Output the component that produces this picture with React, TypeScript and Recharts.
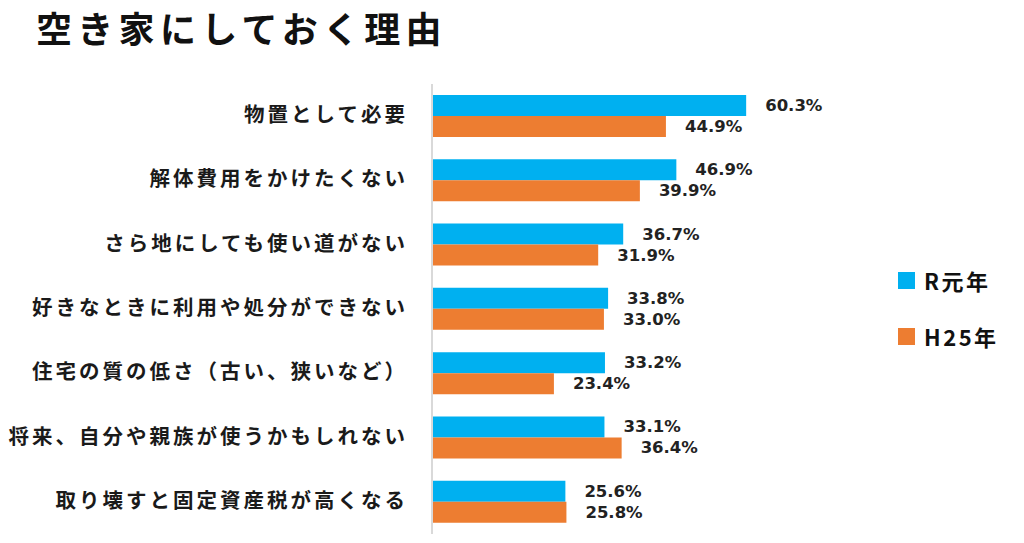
import * as React from 'react'
import { Bar, BarChart, LabelList, XAxis, YAxis } from 'recharts'

const categories = [
  '物置として必要',
  '解体費用をかけたくない',
  'さら地にしても使い道がない',
  '好きなときに利用や処分ができない',
  '住宅の質の低さ（古い、狭いなど）',
  '将来、自分や親族が使うかもしれない',
  '取り壊すと固定資産税が高くなる',
]
const r1Values = [60.3, 46.9, 36.7, 33.8, 33.2, 33.1, 25.6]
const h25Values = [44.9, 39.9, 31.9, 33.0, 23.4, 36.4, 25.8]
const seriesNames = ['R元年', 'H25年']

const BLUE = '#00B0F0'
const ORANGE = '#ED7D31'
const JP = '"Noto Sans CJK JP", "Noto Sans", sans-serif'

const data = categories.map((name, i) => ({ name, r1: r1Values[i], h25: h25Values[i] }))

const CategoryTick = (props: any) => {
  const { x, y, payload } = props
  return (
    <text
      x={x}
      y={y}
      dy={-3}
      textAnchor="end"
      dominantBaseline="central"
      fontFamily={JP}
      fontSize={20.5}
      fontWeight={700}
      letterSpacing={3}
      fill="#1a1a1a"
    >
      {payload.value}
    </text>
  )
}

const ValueLabel = (props: any) => {
  const { x, y, width, height, value } = props
  return (
    <text
      x={x + width + 19}
      y={y + height / 2}
      dominantBaseline="central"
      fontFamily='"DejaVu Sans", Verdana, sans-serif'
      fontSize={16.5}
      fontWeight={700}
      fill="#222"
    >
      {`${value.toFixed(1)}%`}
    </text>
  )
}

const LegendBox = () => (
  <div
    style={{
      position: 'absolute',
      left: 898,
      top: 266,
      fontFamily: JP,
      fontWeight: 700,
      fontSize: 22,
      letterSpacing: 2.5,
      color: '#111',
    }}
  >
    {[
      { label: seriesNames[0], color: BLUE },
      { label: seriesNames[1], color: ORANGE },
    ].map((it) => (
      <div key={it.label} style={{ display: 'flex', alignItems: 'center', height: 28, marginBottom: 28, lineHeight: 1 }}>
        <span style={{ width: 17, height: 17, background: it.color, marginRight: 9, display: 'inline-block' }} />
        {it.label}
      </div>
    ))}
  </div>
)

export default function App() {
  return (
    <div style={{ position: 'absolute', left: 0, top: 0, width: 1024, height: 543, background: '#fff' }}>
      <div
        style={{
          position: 'absolute',
          left: 36,
          top: 9,
          fontFamily: JP,
          fontWeight: 700,
          fontSize: 36,
          lineHeight: 1,
          letterSpacing: 5.3,
          color: '#111',
        }}
      >
        空き家にしておく理由
      </div>
      <BarChart
        width={1024}
        height={543}
        data={data}
        layout="vertical"
        margin={{ top: 84, right: 71, bottom: 9, left: 0 }}
        barGap={0}
        barSize={21}
      >
        <XAxis type="number" domain={[0, 100]} hide />
        <YAxis
          type="category"
          dataKey="name"
          width={432}
          tickLine={false}
          tickSize={0}
          tickMargin={24}
          axisLine={{ stroke: '#d9d9d9', strokeWidth: 2 }}
          tick={<CategoryTick />}
          interval={0}
        />
        <Bar dataKey="r1" name={seriesNames[0]} fill={BLUE} isAnimationActive={false}>
          <LabelList dataKey="r1" content={<ValueLabel />} />
        </Bar>
        <Bar dataKey="h25" name={seriesNames[1]} fill={ORANGE} isAnimationActive={false}>
          <LabelList dataKey="h25" content={<ValueLabel />} />
        </Bar>
      </BarChart>
      <LegendBox />
    </div>
  )
}
